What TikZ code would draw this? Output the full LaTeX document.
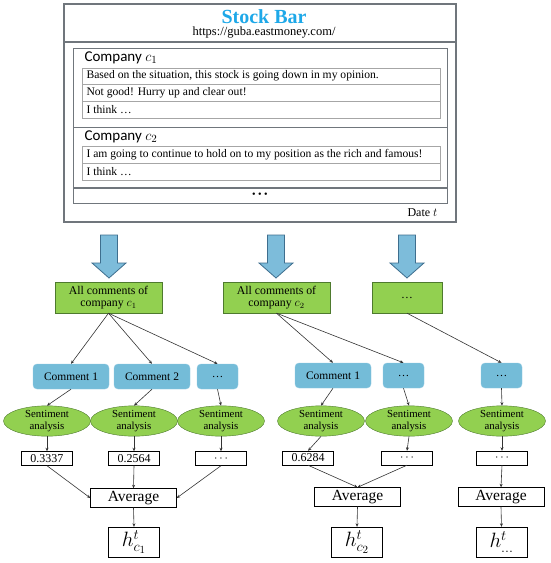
\documentclass[tikz,border=0pt]{standalone}
\usepackage{fontspec}
\setmainfont{Liberation Serif}
\newfontfamily\labelfont{Carlito}
\usetikzlibrary{arrows.meta, shapes.geometric}

\definecolor{barblue}{HTML}{1EA8E8}
\definecolor{arrowfill}{HTML}{7DBCDA}
\definecolor{arrowline}{HTML}{3E6E8E}
\definecolor{boxgreen}{HTML}{92D050}
\definecolor{greenline}{HTML}{4E7A2E}
\definecolor{cmtblue}{HTML}{74BCD8}
\definecolor{framegray}{HTML}{70767C}
\definecolor{rowgray}{HTML}{A6A6A6}

\tikzset{
  allbox/.style={draw=greenline, fill=boxgreen, inner sep=0pt, minimum height=31pt, align=center, font=\fontsize{11.8}{12}\selectfont},
  cmtbox/.style={draw=cmtblue!80!white, fill=cmtblue, rounded corners=4pt, inner sep=0pt, minimum width=76pt, minimum height=25pt, font=\fontsize{11.5}{12}\selectfont},
  sentell/.style={ellipse, draw=greenline, fill=boxgreen, inner sep=0pt, minimum width=87pt, minimum height=28pt, align=center, font=\fontsize{10.8}{12}\selectfont},
  scorebox/.style={draw, inner sep=0pt, minimum width=51pt, minimum height=14pt, font=\fontsize{12}{12}\selectfont},
  avgbox/.style={draw, inner sep=0pt, minimum width=86pt, minimum height=19pt, font=\fontsize{15.5}{15}\selectfont},
  hbox/.style={draw, inner sep=0pt, minimum width=51pt, minimum height=30pt, font=\fontsize{21.5}{21}\selectfont},
  flow/.style={draw=black!80, line width=0.6pt, -{Stealth[length=3.5pt,width=3pt]}},
  row/.style={draw=rowgray, line width=0.6pt},
  rowtext/.style={anchor=west, font=\fontsize{11.6}{11}\selectfont},
  complabel/.style={anchor=west, font=\labelfont\fontsize{15}{15}\selectfont},
}

\begin{document}
\begin{tikzpicture}[x=1pt, y=-1pt]
  \useasboundingbox (0,0) rectangle (550,563);

  % stock bar page
  \draw[framegray, line width=1.2pt] (64,4) rectangle (456,222);
  \draw[framegray, line width=1.2pt] (64,42) -- (456,42);
  \node[text=barblue, font=\fontsize{20}{20}\selectfont\bfseries] (title) at (264,16.5) {Stock Bar};
  \node[font=\fontsize{12.5}{12}\selectfont] (url) at (264,33) {https://guba.eastmoney.com/};
  \draw[framegray, line width=1pt] (73,48) rectangle (447,203);
  \draw[framegray, line width=1pt] (73,127) -- (447,127);
  \draw[framegray, line width=1.5pt] (73,188) -- (447,188);

  \node[complabel] (comp1) at (81,58) {Company $c_1$};
  \draw[row] (82,68) rectangle (440,118);
  \draw[row] (82,84) -- (440,84);
  \draw[row] (82,101) -- (440,101);
  \node[rowtext] (r11) at (83,76) {Based on the situation, this stock is going down in my opinion.};
  \node[rowtext] (r12) at (83,93) {Not good! Hurry up and clear out!};
  \node[rowtext] (r13) at (83,110) {I think \dots};

  \node[complabel] (comp2) at (81,137) {Company $c_2$};
  \draw[row] (82,146) rectangle (440,180);
  \draw[row] (82,163) -- (440,163);
  \node[rowtext] (r21) at (83,154.5) {I am going to continue to hold on to my position as the rich and famous!};
  \node[rowtext] (r22) at (83,171.5) {I think \dots};

  \node (more) at (260,195) {\textbullet\ \textbullet\ \textbullet};
  \node[anchor=east, font=\fontsize{12}{12}\selectfont] (date) at (441,213) {Date $t$};

  % block arrows
  \foreach \cx in {109,276,407}
    \draw[arrowline, fill=arrowfill, line width=0.8pt]
      (\cx-8.5,235) -- (\cx+8.5,235) -- (\cx+8.5,263) -- (\cx+17,263)
      -- (\cx,278) -- (\cx-17,263) -- (\cx-8.5,263) -- cycle;

  % companies
  \node[allbox, minimum width=107pt] (all1) at (108.5,297.5) {All comments of\\company $c_1$};
  \node[allbox, minimum width=107pt] (all2) at (276.5,297.5) {All comments of\\company $c_2$};
  \node[allbox, minimum width=70pt] (all3) at (407,297.5) {\dots};

  % comments
  \node[cmtbox] (cm11) at (71,376.5) {Comment 1};
  \node[cmtbox] (cm12) at (152,376.5) {Comment 2};
  \node[cmtbox, minimum width=41pt] (cm13) at (217.5,376.5) {\dots};
  \node[cmtbox] (cm21) at (333,375.5) {Comment 1};
  \node[cmtbox, minimum width=41pt] (cm22) at (403.5,375.5) {\dots};
  \node[cmtbox, minimum width=41pt] (cm31) at (501.5,375.5) {\dots};

  % sentiment analysis
  \node[sentell] (sa11) at (47,421) {Sentiment\\analysis};
  \node[sentell] (sa12) at (134,421) {Sentiment\\analysis};
  \node[sentell] (sa13) at (221,421) {Sentiment\\analysis};
  \node[sentell] (sa21) at (321,421) {Sentiment\\analysis};
  \node[sentell] (sa22) at (409,421) {Sentiment\\analysis};
  \node[sentell] (sa31) at (502,421) {Sentiment\\analysis};

  % scores
  \node[scorebox] (sc11) at (47,458.5) {0.3337};
  \node[scorebox] (sc12) at (134,458.5) {0.2564};
  \node[scorebox] (sc13) at (221,458.5) {$\cdots$};
  \node[scorebox] (sc21) at (308,458) {0.6284};
  \node[scorebox] (sc22) at (407,458) {$\cdots$};
  \node[scorebox] (sc31) at (502,458) {$\cdots$};

  % averages and outputs
  \node[avgbox] (avg1) at (133.5,498) {Average};
  \node[avgbox] (avg2) at (357.5,497) {Average};
  \node[avgbox] (avg3) at (501,497) {Average};
  \node[hbox] (h1) at (134,542) {$h^t_{c_1}$};
  \node[hbox] (h2) at (357,542) {$h^t_{c_2}$};
  \node[hbox] (h3) at (501.5,542) {$h^t_{\dots}$};

  % connections
  \foreach \a/\b in {all1/cm11, all1/cm12, all1/cm13, all2/cm21, all2/cm22, all3/cm31,
                     cm11/sa11, cm12/sa12, cm13/sa13, cm21/sa21, cm22/sa22, cm31/sa31,
                     sa11/sc11, sa12/sc12, sa13/sc13, sa21/sc21, sa22/sc22, sa31/sc31,
                     sc12/avg1, sc21/avg2, sc22/avg2, sc31/avg3,
                     avg1/h1, avg2/h2, avg3/h3}
    \draw[flow] (\a.south) -- (\b.north);
  \draw[flow] (sc11.south) -- (avg1.west);
  \draw[flow] (sc13.south) -- (avg1.east);
\end{tikzpicture}
\end{document}
